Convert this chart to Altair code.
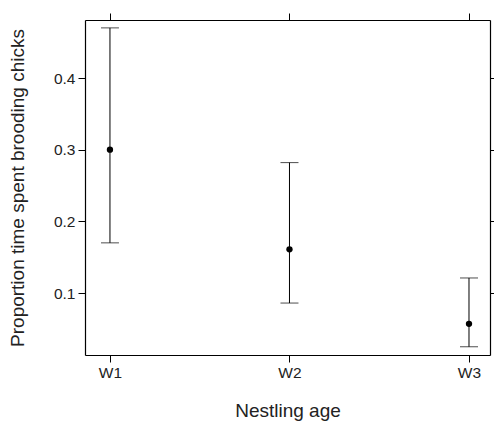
import altair as alt
import pandas as pd

ages = ["W1", "W2", "W3"]
means = [0.300, 0.161, 0.057]
lowers = [0.170, 0.086, 0.025]
uppers = [0.470, 0.282, 0.121]

df = pd.DataFrame({"age": ages, "mean": means, "lo": lowers, "hi": uppers})

FONT = "Liberation Sans"
xscale = alt.Scale(type="point", padding=0.128, align=0.543)
yscale = alt.Scale(domain=[0.0135, 0.481], nice=False, zero=False)

common_axis = dict(domain=True, domainColor="black", domainWidth=1.2,
                   tickColor="black", tickSize=7, tickWidth=1,
                   labelFont=FONT, titleFont=FONT, labelColor="#222",
                   titleColor="#222", grid=False, titleFontWeight="normal")

xb = alt.Axis(orient="bottom", title="Nestling age", labelFontSize=15.5, titleFontSize=19,
              labelPadding=3, titlePadding=21, labelAngle=0, **common_axis)
yl = alt.Axis(orient="left", title="Proportion time spent brooding chicks", values=[0.1, 0.2, 0.3, 0.4],
              labelFontSize=15.5, titleFontSize=19, labelPadding=3, titlePadding=26, **common_axis)
xt = alt.Axis(orient="top", labels=False, title=None, **common_axis)
yr = alt.Axis(orient="right", labels=False, title=None, values=[0.1, 0.2, 0.3, 0.4], **common_axis)

base = alt.Chart(df)

rules = base.mark_rule(color="black", strokeWidth=1).encode(
    x=alt.X("age:N", scale=xscale, axis=xb),
    y=alt.Y("lo:Q", scale=yscale, axis=yl),
    y2="hi:Q",
)
caps_lo = base.mark_tick(color="black", size=18, thickness=1).encode(
    x=alt.X("age:N", scale=xscale, axis=xt),
    y=alt.Y("lo:Q", scale=yscale, axis=yr),
)
caps_hi = base.mark_tick(color="black", size=18, thickness=1).encode(
    x=alt.X("age:N", scale=xscale, axis=None),
    y=alt.Y("hi:Q", scale=yscale, axis=None),
)
pts = base.mark_circle(color="black", size=40, opacity=1).encode(
    x=alt.X("age:N", scale=xscale, axis=None),
    y=alt.Y("mean:Q", scale=yscale, axis=None),
)

chart = alt.layer(rules, caps_lo, caps_hi, pts).resolve_axis(
    x="independent", y="independent"
).properties(
    width=405, height=335,
    autosize=alt.AutoSizeParams(type="none"),
    padding={"left": 77, "top": 12, "right": 4, "bottom": 68},
).configure_view(stroke=None).configure(background="white")

chart.save("out.html", embed_options={"renderer": "svg", "actions": False})
